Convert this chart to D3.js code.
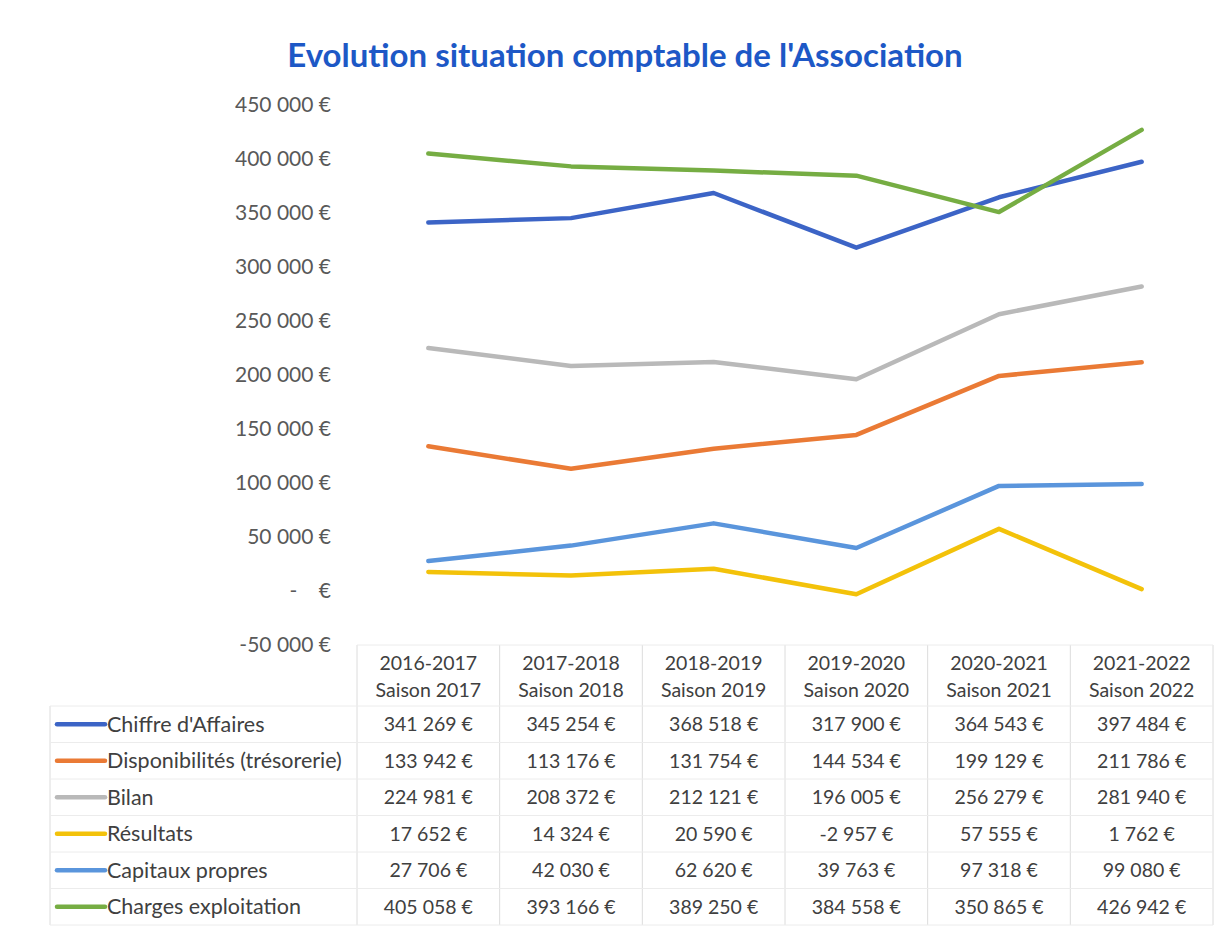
<!DOCTYPE html>
<html>
<head>
<meta charset="utf-8">
<script src="https://cdn.jsdelivr.net/npm/d3@7"></script>
<style>
  html, body { margin: 0; padding: 0; background: #ffffff; }
  svg { display: block; }
  text { font-family: Lato, "Open Sans", sans-serif; }
</style>
</head>
<body>
<svg id="chart" width="1215" height="931"></svg>
<script>
const categoriesLine1 = ["2016-2017", "2017-2018", "2018-2019", "2019-2020", "2020-2021", "2021-2022"];
const categoriesLine2 = ["Saison 2017", "Saison 2018", "Saison 2019", "Saison 2020", "Saison 2021", "Saison 2022"];
const seriesNames = ["Chiffre d'Affaires", "Disponibilités (trésorerie)", "Bilan", "Résultats", "Capitaux propres", "Charges exploitation"];
const chiffreAffaires = [341269, 345254, 368518, 317900, 364543, 397484];
const disponibilites = [133942, 113176, 131754, 144534, 199129, 211786];
const bilan = [224981, 208372, 212121, 196005, 256279, 281940];
const resultats = [17652, 14324, 20590, -2957, 57555, 1762];
const capitauxPropres = [27706, 42030, 62620, 39763, 97318, 99080];
const chargesExploitation = [405058, 393166, 389250, 384558, 350865, 426942];
const yTicks = [-50000, 0, 50000, 100000, 150000, 200000, 250000, 300000, 350000, 400000, 450000];
const seriesColors = ["#3c64c6", "#ea7a35", "#b9b9b9", "#f3c20a", "#5a95dc", "#76ad43"];
const title = "Evolution situation comptable de l'Association";

const seriesValues = [chiffreAffaires, disponibilites, bilan, resultats, capitauxPropres, chargesExploitation];
const categories = categoriesLine1.map((c, i) => c + "\n" + categoriesLine2[i]);

const svg = d3.select("#chart");
const tableLeft = 50, plotLeft = 357, plotRight = 1213;
const plotTop = 105, plotBottom = 645;

const x = d3.scaleBand().domain(categories).range([plotLeft, plotRight]).padding(0);
const y = d3.scaleLinear().domain([-50000, 450000]).range([plotBottom, plotTop]);

const loc = d3.formatLocale({decimal: ",", thousands: "\u00a0", grouping: [3], currency: ["", " €"], minus: "-"});
const fmt = loc.format(",.0f");
const fmtEuro = v => fmt(v) + " €";

// Title
svg.append("text")
  .attr("x", 625).attr("y", 67)
  .attr("text-anchor", "middle")
  .attr("font-size", 33).attr("font-weight", "bold")
  .attr("fill", "#1d58c6")
  .text(title);

// Y axis (labels only)
const yAxis = d3.axisLeft(y).tickValues(yTicks).tickSize(0).tickPadding(0)
  .tickFormat(d => d === 0 ? "-\u00a0\u00a0\u00a0\u00a0€" : fmtEuro(d));
const gy = svg.append("g").attr("transform", `translate(331,0)`).call(yAxis);
gy.select(".domain").remove();
gy.selectAll("text").attr("font-size", 21).attr("fill", "#595959")
  .attr("font-family", "Lato, sans-serif");

// Lines
const line = d3.line().x((d, i) => x(categories[i]) + x.bandwidth() / 2).y(d => y(d));
svg.append("g").selectAll("path")
  .data(seriesValues)
  .join("path")
  .attr("d", d => line(d))
  .attr("fill", "none")
  .attr("stroke", (d, i) => seriesColors[i])
  .attr("stroke-width", 4.5)
  .attr("stroke-linejoin", "round")
  .attr("stroke-linecap", "round");

// Data table
const headerBottom = 706;
const rowH = 36.5;
const tableBottom = headerBottom + rowH * seriesNames.length;
const tbl = svg.append("g");
const gridColor = "#dcdcdc";

// vertical lines
const vx = categories.map(c => x(c)).concat([plotRight]);
tbl.selectAll("line.v").data(vx).join("line")
  .attr("x1", d => d).attr("x2", d => d)
  .attr("y1", plotBottom).attr("y2", tableBottom)
  .attr("stroke", gridColor).attr("stroke-width", 1);
tbl.append("line").attr("x1", tableLeft).attr("x2", tableLeft)
  .attr("y1", headerBottom).attr("y2", tableBottom)
  .attr("stroke", gridColor);
// horizontal lines
tbl.append("line").attr("x1", plotLeft).attr("x2", plotRight)
  .attr("y1", plotBottom).attr("y2", plotBottom).attr("stroke", "#ececec");
tbl.selectAll("line.h").data(d3.range(seriesNames.length + 1)).join("line")
  .attr("x1", tableLeft).attr("x2", plotRight)
  .attr("y1", i => headerBottom + i * rowH).attr("y2", i => headerBottom + i * rowH)
  .attr("stroke", "#ececec").attr("stroke-width", 1);

// header
const hdr = tbl.append("g");
hdr.selectAll("text.l1").data(categoriesLine1).join("text")
  .attr("x", (d, i) => x(categories[i]) + x.bandwidth() / 2)
  .attr("y", 670).attr("text-anchor", "middle")
  .attr("font-size", 19.5).attr("fill", "#404040").text(d => d);
hdr.selectAll("text.l2").data(categoriesLine2).join("text")
  .attr("x", (d, i) => x(categories[i]) + x.bandwidth() / 2)
  .attr("y", 697).attr("text-anchor", "middle")
  .attr("font-size", 19.5).attr("fill", "#404040").text(d => d);

// rows
seriesNames.forEach((name, r) => {
  const cy = headerBottom + rowH * r + rowH / 2;
  tbl.append("line")
    .attr("x1", 57).attr("x2", 105).attr("y1", cy).attr("y2", cy)
    .attr("stroke", seriesColors[r]).attr("stroke-width", 4.5)
    .attr("stroke-linecap", "round");
  tbl.append("text")
    .attr("x", 107).attr("y", cy).attr("dy", "0.35em")
    .attr("font-size", 21.5).attr("fill", "#404040").text(name);
  tbl.selectAll(null).data(seriesValues[r]).join("text")
    .attr("x", (d, i) => x(categories[i]) + x.bandwidth() / 2)
    .attr("y", cy).attr("dy", "0.35em")
    .attr("text-anchor", "middle")
    .attr("font-size", 19.5).attr("fill", "#404040")
    .text(d => fmtEuro(d));
});
</script>
</body>
</html>
